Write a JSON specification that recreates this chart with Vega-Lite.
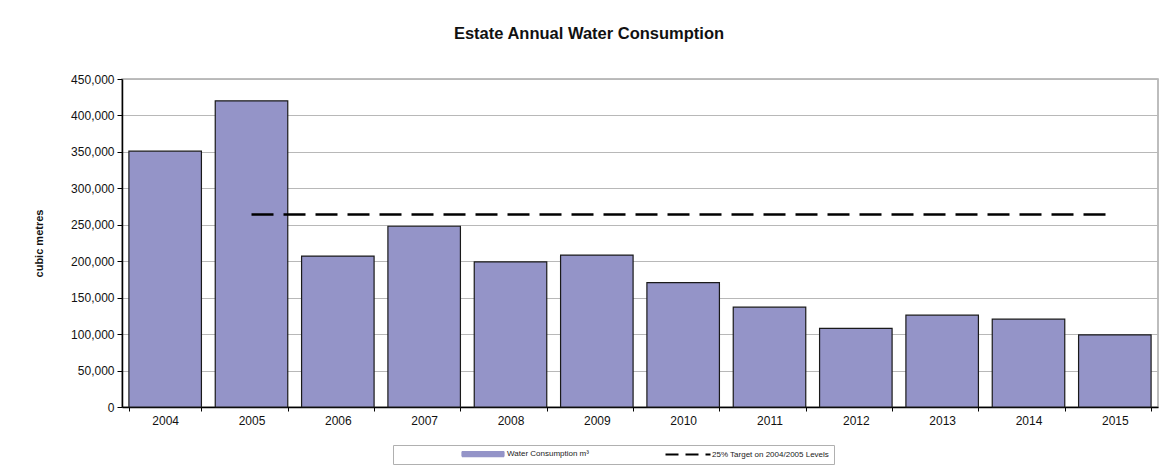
{
  "$schema": "https://vega.github.io/schema/vega-lite/v6.json",
  "width": 1036,
  "height": 328,
  "autosize": {"type": "none"},
  "padding": {"left": 122, "top": 79, "right": 12, "bottom": 59},
  "background": "white",
  "title": {
    "text": "Estate Annual Water Consumption",
    "font": "Liberation Sans",
    "fontSize": 16.5,
    "fontWeight": "bold",
    "color": "#111111",
    "anchor": "middle",
    "dx": -51,
    "offset": 31
  },
  "config": {
    "view": {"stroke": "#a8a8a8", "strokeWidth": 1.5},
    "font": "Liberation Sans",
    "axis": {
      "labelFont": "Liberation Sans",
      "titleFont": "Liberation Sans",
      "labelColor": "#111111",
      "titleColor": "#111111",
      "domainColor": "#000000",
      "tickColor": "#000000"
    }
  },
  "datasets": {
    "water": [
      {"year": "2004", "consumption": 351000},
      {"year": "2005", "consumption": 420000},
      {"year": "2006", "consumption": 207000},
      {"year": "2007", "consumption": 248000},
      {"year": "2008", "consumption": 199000},
      {"year": "2009", "consumption": 208500},
      {"year": "2010", "consumption": 170500},
      {"year": "2011", "consumption": 137000},
      {"year": "2012", "consumption": 108000},
      {"year": "2013", "consumption": 126000},
      {"year": "2014", "consumption": 120500},
      {"year": "2015", "consumption": 99000}
    ],
    "target": [
      {"year": "2005", "target": 264000},
      {"year": "2006", "target": 264000},
      {"year": "2007", "target": 264000},
      {"year": "2008", "target": 264000},
      {"year": "2009", "target": 264000},
      {"year": "2010", "target": 264000},
      {"year": "2011", "target": 264000},
      {"year": "2012", "target": 264000},
      {"year": "2013", "target": 264000},
      {"year": "2014", "target": 264000},
      {"year": "2015", "target": 264000}
    ]
  },
  "layer": [
    {
      "data": {"name": "water"},
      "mark": {"type": "bar", "stroke": "#1a1a1a", "strokeWidth": 1.2},
      "encoding": {
        "x": {
          "field": "year",
          "type": "ordinal",
          "scale": {"paddingInner": 0.16, "paddingOuter": 0.08},
          "axis": {
            "title": null,
            "labelAngle": 0,
            "labelFontSize": 12,
            "labelPadding": 4,
            "tickBand": "extent",
            "tickSize": 4,
            "domainWidth": 1.5,
            "grid": false
          }
        },
        "y": {
          "field": "consumption",
          "type": "quantitative",
          "scale": {"domain": [0, 450000], "nice": false},
          "axis": {
            "title": "cubic metres",
            "titleFontSize": 11,
            "titleFontWeight": "bold",
            "titlePadding": 26,
            "labelFontSize": 12,
            "labelPadding": 3,
            "format": ",.0f",
            "values": [0, 50000, 100000, 150000, 200000, 250000, 300000, 350000, 400000, 450000],
            "tickSize": 5,
            "domainWidth": 1.5,
            "gridColor": "#b8b8b8",
            "gridWidth": 1
          }
        },
        "color": {
          "datum": "Water Consumption m³",
          "type": "nominal",
          "scale": {
            "domain": ["Water Consumption m³", "25% Target on 2004/2005 Levels"],
            "range": ["#9494c8", "#000000"]
          },
          "legend": {
            "title": null,
            "orient": "none",
            "legendX": 271,
            "legendY": 366,
            "direction": "horizontal",
            "columns": 2,
            "columnPadding": 14,
            "padding": 5,
            "strokeColor": "#b0b0b0",
            "labelFontSize": 8,
            "labelColor": "#222222",
            "labelOffset": 20,
            "symbolSize": 100,
            "symbolOffset": 81,
            "labelLimit": 250,
            "symbolType": {"expr": "datum.value == 'Water Consumption m³' ? 'M-4.2,-0.5H4.2V0.5H-4.2Z' : 'M-4.5,0H4.5'"},
            "symbolStrokeColor": "#111111",
            "symbolStrokeWidth": {"expr": "datum.value == 'Water Consumption m³' ? 1.2 : 2"},
            "symbolDash": {"expr": "datum.value == 'Water Consumption m³' ? [1, 0] : [13, 7]"}
          }
        }
      }
    },
    {
      "data": {"name": "target"},
      "mark": {"type": "line", "strokeWidth": 2.5, "strokeDash": [22, 10]},
      "encoding": {
        "x": {"field": "year", "type": "ordinal"},
        "y": {
          "field": "target",
          "type": "quantitative",
          "axis": {
            "title": "cubic metres",
            "titleFontSize": 11,
            "titleFontWeight": "bold",
            "titlePadding": 26,
            "labelFontSize": 12,
            "labelPadding": 3,
            "format": ",.0f",
            "values": [0, 50000, 100000, 150000, 200000, 250000, 300000, 350000, 400000, 450000],
            "tickSize": 5,
            "domainWidth": 1.5,
            "gridColor": "#b8b8b8",
            "gridWidth": 1
          }
        },
        "color": {"datum": "25% Target on 2004/2005 Levels", "type": "nominal"}
      }
    }
  ]
}
